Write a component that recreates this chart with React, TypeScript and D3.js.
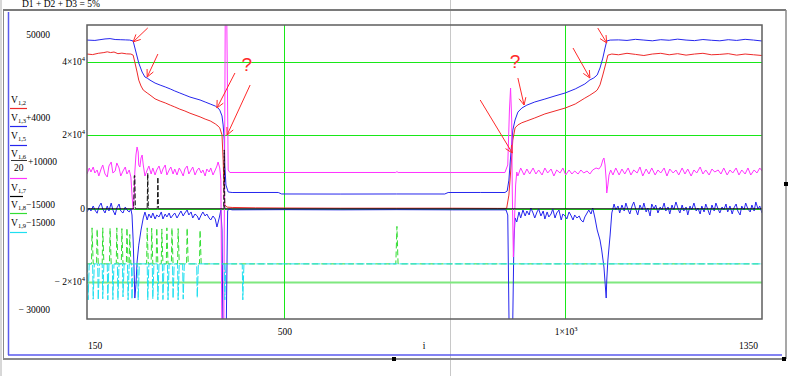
import React from "react";
import * as d3 from "d3";

type P = [number, number];

const X_DOMAIN: [number, number] = [150, 1350];
const Y_DOMAIN: [number, number] = [-30000, 50000];
const X_GRID = [500, 1000];
const Y_GRID = [-20000, 0, 20000, 40000];
const Y_TICKS: { v: number; base: string; exp: string }[] = [
  { v: 40000, base: "4×10", exp: "4" },
  { v: 20000, base: "2×10", exp: "4" },
  { v: 0, base: "0", exp: "" },
  { v: -20000, base: "− 2×10", exp: "4" },
];
const X_TICKS: { v: number; base: string; exp: string }[] = [
  { v: 500, base: "500", exp: "" },
  { v: 1000, base: "1×10", exp: "3" },
];
const Y_LIMIT_LABELS = ["50000", "− 30000"];
const X_LIMIT_LABELS = ["150", "1350"];
const X_AXIS_LABEL = "i";
const TITLE = "D1 + D2 + D3 = 5%";

// V1,2 (red)
const V1_2: P[] = [
  [150, 42100], [160, 41950], [170, 42300], [180, 42500], [186, 42700], [192, 42500], [198, 42650], [205, 42200], [212, 42350], [220, 42150], [228, 42100], [232, 41800],
  [235, 39900], [239, 37200], [242, 35000], [246, 33400], [250, 32300], [257, 31500], [262, 30950], [271, 29900], [280, 29300], [289, 28800], [298, 28200], [306, 27700], [315, 27100], [324, 26600], [333, 26000], [342, 25500], [351, 25000], [360, 24400], [369, 23900], [378, 23100], [383, 22500], [386, 22000], [390, 20100], [392, 13300], [394, 3700], [395, 1000], [399, 450], [408, 350],
  [450, 250], [500, 200], [600, 150], [700, 150], [800, 150], [880, 100], [896, 100],
  [900, 3700], [904, 11900], [907, 18700], [911, 22000], [916, 22800], [923, 23400], [932, 23900], [946, 24700], [964, 25800], [982, 26600], [1000, 27400], [1018, 28500], [1035, 30100], [1044, 30900], [1053, 31800], [1057, 32300], [1062, 33700], [1067, 36400], [1073, 39900], [1076, 41800], [1083, 42100],
  [1095, 41900], [1110, 42300], [1125, 42000], [1140, 41700], [1155, 42100], [1170, 42300], [1185, 41900], [1200, 42200], [1215, 41800], [1230, 42100], [1245, 42300], [1260, 41900], [1275, 42000], [1290, 42200], [1305, 41800], [1320, 42100], [1335, 41900], [1350, 41700],
];

// V1,3 (plotted +4000, blue)
const V1_3: P[] = [
  [150, 41900], [164, 41800], [173, 42000], [182, 42200], [191, 42300], [200, 42050], [209, 42000], [218, 41950], [226, 41900], [232, 41650],
  [237, 38650], [242, 35650], [248, 33200], [253, 31850], [257, 31550], [262, 31000], [271, 30200], [280, 29650], [289, 29150], [298, 28600], [306, 28050], [315, 27500], [324, 26950], [333, 26400], [342, 26000], [351, 25600], [360, 25050], [369, 24500], [378, 23950], [383, 23400], [386, 22850], [390, 21250], [392, 18800], [394, 14700], [395, 7900], [397, 2450], [401, 560], [408, 420],
  [490, 430], [496, 20], [600, 0], [700, 20], [786, 10], [792, 420], [850, 430], [893, 420],
  [897, 830], [900, 3800], [904, 12000], [907, 17400], [911, 20150], [916, 22300], [923, 23400], [932, 24200], [946, 25050], [964, 25850], [982, 26700], [1000, 27500], [1018, 28600], [1035, 29950], [1044, 31050], [1051, 31600], [1057, 32400], [1062, 34300], [1067, 37000], [1071, 39750], [1074, 41650], [1080, 41900],
  [1095, 41950], [1110, 41800], [1125, 42100], [1140, 41900], [1155, 41700], [1170, 42000], [1185, 41850], [1200, 42150], [1215, 41900], [1230, 41750], [1245, 42050], [1260, 41850], [1275, 41700], [1290, 42000], [1305, 41800], [1320, 42100], [1335, 41900], [1350, 41650],
];

// V1,5 (blue, around zero)
const V1_5: P[] = [
  [150, -880], [154, 200], [157, -610], [161, 750], [164, -340], [168, -1220], [171, 480], [175, 1560], [178, -70], [182, -1160], [186, 750], [189, -610], [193, 1560], [196, -340], [200, -1700], [203, 200], [207, 1290], [210, -610], [214, -1160], [218, 480], [221, -340], [225, -880], [228, -70],
  [230, -1700], [232, -8500], [234, -18000], [235, -24300], [237, -20700], [239, -14500], [242, -9900], [246, -5800], [250, -2500], [253, -900],
  [257, -3060], [260, -1430], [264, -2520], [267, -1160], [271, -2790], [274, -1700], [278, -2240], [282, -880], [285, -2790], [289, -1430], [292, -2240], [296, -1160], [299, -2520], [303, -1700], [306, -1160], [310, -2520], [314, -1430], [317, -610], [321, -1970], [324, -1160], [328, -340], [331, -1700], [335, -880], [338, -2520], [342, -1430], [346, -1970], [349, -3060], [353, -1700], [356, -880], [360, -1970], [363, -1430], [367, -2520], [370, -3060], [374, -1970], [378, -2790], [381, -4970], [385, -2520], [388, -340],
  [390, -5800], [392, -40000], [397, -40000], [400, -600], [402, -70], [408, -300],
  [500, -250], [600, -300], [700, -250], [800, -300], [893, -300],
  [895, -340], [898, -1700], [901, -40000], [906, -40000], [909, -8500], [911, -2500], [914, -3600],
  [918, -880], [921, -2520], [925, -340], [929, -1970], [932, -610], [936, -1700], [939, 200], [943, -1160], [946, -2520], [950, -880], [953, -70], [957, -1970], [961, -610], [964, -2790], [968, -880], [971, -2240], [975, -1430], [978, -70], [982, -2520], [985, -1160], [989, -340], [993, -3060], [996, -1430], [1000, -1970], [1003, -2790], [1007, -880], [1010, -1700], [1014, -3060], [1017, -1700], [1021, -2520], [1025, -1970], [1028, -3060], [1032, -3610], [1035, -2240], [1039, -1160], [1042, -340], [1046, -1430], [1049, 200],
  [1053, -2520], [1057, -5780], [1062, -8500], [1065, -11220], [1069, -15850], [1073, -24290], [1074, -19390], [1076, -13950], [1080, -7140], [1083, -1160], [1087, 1290],
  [1090, -340], [1094, 750], [1097, -1160], [1101, 1020], [1105, -610], [1108, 1560], [1112, -340], [1115, -1430], [1119, 750], [1122, 1840], [1126, -340], [1129, -1700], [1133, 1020], [1137, -340], [1140, 1560], [1144, -880], [1147, 200], [1151, -1970], [1154, 1290], [1158, -70], [1161, 1020], [1165, -1160], [1169, 480], [1172, -340], [1176, 1560], [1179, -610], [1183, 480], [1186, -1430], [1190, 1020], [1193, -340], [1197, 1840], [1201, -70], [1204, -1160], [1208, 1020], [1211, -610], [1215, 480], [1218, -1700], [1222, 750], [1225, -340], [1229, 1560], [1233, -610], [1236, 200], [1240, -1430], [1243, 750], [1247, -880], [1250, 1290], [1254, -340], [1257, -1700], [1261, 1020], [1265, -610], [1268, 1560], [1272, -70], [1275, -1160], [1279, 480], [1282, -340], [1286, 1290], [1289, -880], [1293, 750], [1297, -1430], [1300, 200], [1304, 1290], [1307, -610], [1311, -1700], [1314, 750], [1318, -340], [1321, 1560], [1325, -70], [1329, -880], [1332, 1020], [1336, -610], [1339, 1840], [1343, -70], [1346, 750], [1350, -1160],
];

// V1,6 (plotted /20 + 10000, magenta)
const V1_6: P[] = [
  [150, -10900], [154, 21800], [157, 0], [161, 27200], [164, -5400], [168, 10900], [171, -21800], [175, 16300], [178, 38100], [182, -10900], [186, -27200], [189, 32700], [193, 54400], [196, -5400], [200, 5400], [203, 49000], [207, 21800], [210, -21800], [214, 5400], [218, 27200], [221, -10900], [225, 10900], [228, -27200],
  [230, -125200], [232, -206800], [234, -125200], [235, 0], [237, 92500], [239, 136100], [241, 108800], [242, 38100], [244, 27200], [246, 76200], [248, 92500], [250, 38100], [253, -21800],
  [257, 10900], [260, 32700], [264, -10900], [267, 21800], [271, -16300], [274, 10900], [278, 32700], [282, -10900], [285, 16300], [289, 38100], [292, -16300], [296, 10900], [299, 27200], [303, -10900], [306, 16300], [310, -16300], [314, 21800], [317, 5400], [321, -21800], [324, 16300], [328, 32700], [331, -10900], [335, 10900], [338, 27200], [342, -16300], [346, 10900], [349, 21800], [353, -5400], [356, 10900], [360, -21800], [363, 16300], [367, 0], [370, 21800], [374, -16300], [378, 10900], [381, 32700], [383, 54400], [386, 21800], [388, -43500],
  [390, -1000000], [393, -1000000], [396, 1000000], [398, 1000000], [401, 10900], [404, -2700],
  [550, -2700], [699, -2700], [701, 2000], [703, -2700], [893, -2700],
  [898, 38100], [901, 337400], [903, 457100], [905, 283000], [906, -98000], [908, -462600], [910, -261200], [912, -70700], [914, 0], [916, -21800],
  [921, 21800], [927, -16300], [932, 16300], [937, -10900], [943, 21800], [948, -10900], [953, 10900], [959, -16300], [964, 21800], [969, -5400], [975, 16300], [980, -21800], [985, 10900], [991, -5400], [996, 21800], [1001, -16300], [1007, 10900], [1012, -10900], [1017, 5400], [1023, -10900], [1028, 10900], [1033, -5400], [1039, 5400], [1044, -10900], [1049, 10900], [1055, 21800], [1060, 16300], [1064, 32700],
  [1067, 65300], [1069, 76200], [1071, 38100], [1073, -43500], [1074, -114300], [1076, -70700], [1078, -16300], [1081, 10900],
  [1085, -16300], [1090, 21800], [1096, -16300], [1101, 16300], [1106, -10900], [1112, 21800], [1117, -16300], [1122, 10900], [1128, -5400], [1133, 27200], [1138, -21800], [1144, 16300], [1149, -10900], [1154, 21800], [1160, -16300], [1165, 10900], [1170, -5400], [1176, 21800], [1181, -21800], [1186, 16300], [1192, -5400], [1197, 10900], [1202, -16300], [1208, 21800], [1213, -10900], [1218, 16300], [1224, -21800], [1229, 10900], [1234, -5400], [1240, 27200], [1245, -10900], [1250, 10900], [1256, -16300], [1261, 16300], [1266, 0], [1272, 10900], [1277, -10900], [1282, 21800], [1288, -16300], [1293, 10900], [1298, -5400], [1304, 21800], [1309, -16300], [1314, 10900], [1320, -10900], [1325, 21800], [1330, -16300], [1336, 10900], [1341, -5400], [1346, 21800], [1350, 5400],
];

// V1,7 (black)
const V1_7: P[] = [
  [150, 0], [233, 0], [234, 9000], [235, 9000], [236, 0], [257, 0], [258, 9700], [259, 0], [275, 0], [276, 8600], [277, 0], [393, 0], [394, 16000], [395, 0], [1350, 0],
];

// V1,8 (plotted -15000, green)
const V1_8: P[] = [
  [150, 0], [158, 0], [159, 9800], [161, 0], [167, 0], [168, 9500], [170, 0], [177, 0], [178, 9800], [180, 0], [190, 0], [191, 9700], [193, 0], [202, 0], [203, 9800], [205, 0], [211, 0], [212, 9600], [214, 0], [220, 0], [221, 9800], [223, 0], [225, 0], [226, 8000], [228, 0],
  [256, 0], [257, 9800], [259, 0], [264, 0], [265, 9700], [267, 0], [273, 0], [274, 9800], [276, 0], [282, 0], [283, 9500], [285, 0], [291, 0], [292, 9800], [294, 0], [300, 0], [301, 9800], [303, 0], [311, 0], [312, 9600], [314, 0], [327, 0], [328, 9800], [330, 0], [350, 0], [351, 9200], [353, 0],
  [699, 0], [701, 10200], [703, 0], [1350, 0],
];

// V1,9 (plotted -15000, cyan)
const V1_9: P[] = [
  [150, 0], [151, 0], [152, -9800], [154, 0], [160, 0], [161, -9600], [163, 0], [169, 0], [170, -9800], [172, 0], [177, 0], [178, -9500], [180, 0], [186, 0], [187, -9800], [189, 0], [195, 0], [196, -9700], [198, 0], [204, 0], [205, -9800], [207, 0], [213, 0], [214, -9000], [216, 0], [222, 0], [223, -9800], [225, 0], [229, 0], [230, -9600], [232, 0], [240, 0], [241, -9800], [243, 0],
  [257, 0], [258, -9800], [260, 0], [266, 0], [267, -9500], [269, 0], [275, 0], [276, -9800], [278, 0], [284, 0], [285, -9700], [287, 0], [293, 0], [294, -9800], [296, 0], [302, 0], [303, -9400], [305, 0], [311, 0], [312, -9800], [314, 0], [320, 0], [321, -9600], [323, 0], [345, 0], [346, -9200], [348, 0],
  [394, 0], [395, -9800], [397, 0], [426, 0], [427, -9800], [429, 0], [1350, 0],
];

// hand-drawn annotations (data coordinates)
const ARROWS: [P, P][] = [
  [[258, 49200], [232, 45400]],
  [[276, 42100], [257, 35850]],
  [[413, 36940], [381, 27420]],
  [[440, 33670], [399, 20070]],
  [[849, 29590], [906, 15170]],
  [[916, 35580], [927, 28230]],
  [[1014, 43740], [1044, 35580]],
  [[1058, 49180], [1074, 45100]],
];
const QUESTION_MARKS: P[] = [[434, 39400], [911, 40200]];

const RED = "#ee2a2a";
const BLUE = "#2626ee";
const MAGENTA = "#ff33ff";
const GREEN = "#33dd33";
const CYAN = "#1fdff0";
const GRID = "#18e818";

export default function App() {
  const W = 800, H = 376;
  const M = { left: 87, right: 762, top: 25, bottom: 319 };
  const x = d3.scaleLinear().domain(X_DOMAIN).range([M.left, M.right]);
  const y = d3.scaleLinear().domain(Y_DOMAIN).range([M.bottom, M.top]);
  const path = (data: P[], f: (v: number) => number) =>
    d3.line<P>().x((d) => x(d[0])).y((d) => y(f(d[1])))(data) ?? "";

  const ident = (v: number) => v;
  const traces = [
    { data: V1_2, f: ident, color: RED, dash: undefined as string | undefined },
    { data: V1_3, f: (v: number) => v + 4000, color: BLUE, dash: undefined },
    { data: V1_5, f: ident, color: BLUE, dash: undefined },
    { data: V1_6, f: (v: number) => v / 20 + 10000, color: MAGENTA, dash: undefined },
  ];
  const lateTraces = [
    { data: V1_8, f: (v: number) => v - 15000, color: GREEN, dash: "6,3" },
    { data: V1_9, f: (v: number) => v - 15000, color: CYAN, dash: "9,2" },
  ];

  const serif = "'Liberation Serif', 'Times New Roman', serif";
  const fs = 9.5;
  const y0 = y(0);

  const arrowHead = (a: P, b: P) => {
    const x1 = x(a[0]), y1 = y(a[1]), x2 = x(b[0]), y2 = y(b[1]);
    const ang = Math.atan2(y2 - y1, x2 - x1);
    const L = 8, s = 0.45;
    const p1 = [x2 - L * Math.cos(ang - s), y2 - L * Math.sin(ang - s)];
    const p2 = [x2 - L * Math.cos(ang + s), y2 - L * Math.sin(ang + s)];
    return `M${p1[0]},${p1[1]}L${x2},${y2}L${p2[0]},${p2[1]}`;
  };

  const legendSub = (sub: string, rest: string, yy: number) => (
    <text x={11} y={yy} fontSize={fs} fontFamily={serif}>
      V<tspan fontSize={6.5} dy={2}>{sub}</tspan>
      {rest ? <tspan dy={-2}>{rest}</tspan> : null}
    </text>
  );

  return (
    <svg width={W} height={H} style={{ position: "absolute", left: 0, top: 0, background: "#fff" }}>
      <defs>
        <clipPath id="plotclip">
          <rect x={M.left} y={M.top} width={M.right - M.left} height={M.bottom - M.top} />
        </clipPath>
        <clipPath id="zeroband">
          <rect x={M.left} y={y0 - 1.2} width={M.right - M.left} height={2.4} />
        </clipPath>
        <clipPath id="abovezero">
          <rect x={M.left} y={M.top} width={M.right - M.left} height={y0 - 1.2 - M.top} />
        </clipPath>
      </defs>
      <rect x={0} y={0} width={W} height={H} fill="#fff" />

      {/* worksheet decorations */}
      <line x1={450.5} y1={0} x2={450.5} y2={H} stroke="#c8c8c8" strokeWidth={1} />
      <text x={22} y={7} fontSize={9.5} fontFamily={serif}>{TITLE}</text>
      <line x1={1} y1={0} x2={1} y2={H} stroke="#b0b0b0" strokeWidth={1} />
      <line x1={3.5} y1={10} x2={3.5} y2={359} stroke="#8a8a8a" strokeWidth={1} />
      <line x1={3} y1={10} x2={786} y2={10} stroke="#7a7a7a" strokeWidth={2} />
      <line x1={786} y1={10} x2={786} y2={359} stroke="#8a8a8a" strokeWidth={1.5} />
      <line x1={3} y1={359} x2={786} y2={359} stroke="#8a8a8a" strokeWidth={2} />
      <line x1={8.5} y1={12} x2={8.5} y2={355} stroke="#5a5aee" strokeWidth={1.5} />
      <line x1={8} y1={355} x2={782} y2={355} stroke="#5a5aee" strokeWidth={1.5} />
      <rect x={392} y={357} width={4} height={4} fill="#000" />
      <rect x={782} y={357} width={4} height={4} fill="#000" />
      <rect x={784} y={182} width={4} height={4} fill="#000" />

      {/* grid */}
      {Y_GRID.map((v) => (
        <line key={"gy" + v} x1={M.left} x2={M.right} y1={Math.round(y(v)) + 0.5} y2={Math.round(y(v)) + 0.5}
          stroke={v === -20000 ? "#7fe87f" : GRID} strokeWidth={v === -20000 ? 2 : 1} />
      ))}
      {X_GRID.map((v) => (
        <line key={"gx" + v} y1={M.top} y2={M.bottom} x1={Math.round(x(v)) + 0.5} x2={Math.round(x(v)) + 0.5}
          stroke={GRID} strokeWidth={1} />
      ))}

      {/* traces */}
      <g clipPath="url(#plotclip)" fill="none">
        {traces.map((t, k) => (
          <path key={k} d={path(t.data, t.f)} stroke={t.color} strokeWidth={1} strokeLinejoin="round" />
        ))}
      </g>
      {/* V1,7: solid along zero, dashed where it leaves zero */}
      <g fill="none" stroke="#111" strokeWidth={1}>
        <path d={path(V1_7, ident)} clipPath="url(#zeroband)" />
        <path d={path(V1_7, ident)} clipPath="url(#abovezero)" strokeDasharray="5,2" />
      </g>
      <g clipPath="url(#plotclip)" fill="none">
        {lateTraces.map((t, k) => (
          <path key={k} d={path(t.data, t.f)} stroke={t.color} strokeWidth={1} strokeDasharray={t.dash} strokeLinejoin="round" />
        ))}
      </g>

      {/* plot frame */}
      <rect x={M.left} y={M.top} width={M.right - M.left} height={M.bottom - M.top} fill="none" stroke="#5e5e5e" strokeWidth={1.5} />

      {/* y tick labels */}
      {Y_TICKS.map((t) => (
        <text key={"yt" + t.v} x={85} y={y(t.v) + 3} fontSize={fs} fontFamily={serif} textAnchor="end">
          {t.base}
          {t.exp ? <tspan fontSize={6.5} dy={-4}>{t.exp}</tspan> : null}
        </text>
      ))}
      <text x={50} y={y(Y_DOMAIN[1]) + 13} fontSize={fs} fontFamily={serif} textAnchor="end">{Y_LIMIT_LABELS[0]}</text>
      <text x={50} y={y(Y_DOMAIN[0]) - 6} fontSize={fs} fontFamily={serif} textAnchor="end">{Y_LIMIT_LABELS[1]}</text>

      {/* x tick labels */}
      {X_TICKS.map((t) => (
        <text key={"xt" + t.v} x={x(t.v) + 1} y={M.bottom + 16} fontSize={fs} fontFamily={serif} textAnchor="middle">
          {t.base}
          {t.exp ? <tspan fontSize={6.5} dy={-4}>{t.exp}</tspan> : null}
        </text>
      ))}
      <text x={x(X_DOMAIN[0]) + 1} y={M.bottom + 30} fontSize={fs} fontFamily={serif} textAnchor="start">{X_LIMIT_LABELS[0]}</text>
      <text x={x(X_DOMAIN[1]) - 4} y={M.bottom + 30} fontSize={fs} fontFamily={serif} textAnchor="end">{X_LIMIT_LABELS[1]}</text>
      <text x={424} y={M.bottom + 30} fontSize={fs} fontFamily={serif} textAnchor="middle">{X_AXIS_LABEL}</text>

      {/* legend */}
      {legendSub("1,2", "", 103)}
      <line x1={10} x2={27} y1={108.5} y2={108.5} stroke={RED} strokeWidth={1.2} />
      {legendSub("1,3", "+4000", 121)}
      <line x1={10} x2={27} y1={126.5} y2={126.5} stroke={BLUE} strokeWidth={1.2} />
      {legendSub("1,5", "", 139)}
      <line x1={10} x2={27} y1={145.5} y2={145.5} stroke={BLUE} strokeWidth={1.2} />
      {legendSub("1,6", "", 157)}
      <line x1={11} x2={27} y1={160.5} y2={160.5} stroke="#000" strokeWidth={0.8} />
      <text x={14} y={171} fontSize={fs} fontFamily={serif}>20</text>
      <text x={28} y={165} fontSize={fs} fontFamily={serif}>+10000</text>
      <line x1={10} x2={27} y1={178.5} y2={178.5} stroke={MAGENTA} strokeWidth={1.2} />
      {legendSub("1,7", "", 191)}
      <line x1={10} x2={23} y1={196.5} y2={196.5} stroke="#000" strokeWidth={1.2} />
      {legendSub("1,8", "−15000", 208)}
      <line x1={10} x2={27} y1={213.5} y2={213.5} stroke={GREEN} strokeWidth={1.2} />
      {legendSub("1,9", "−15000", 226)}
      <line x1={10} x2={27} y1={232.5} y2={232.5} stroke={CYAN} strokeWidth={1.2} />

      {/* annotations */}
      <g stroke="#ff2a2a" strokeWidth={1} fill="none">
        {ARROWS.map(([a, b], k) => (
          <g key={"ar" + k}>
            <line x1={x(a[0])} y1={y(a[1])} x2={x(b[0])} y2={y(b[1])} />
            <path d={arrowHead(a, b)} />
          </g>
        ))}
      </g>
      {QUESTION_MARKS.map((q, k) => (
        <text key={"q" + k} x={x(q[0])} y={y(q[1]) + 7} fontSize={19} fontFamily="'Liberation Sans', sans-serif"
          fill="#ff2a2a" textAnchor="middle">?</text>
      ))}
    </svg>
  );
}
